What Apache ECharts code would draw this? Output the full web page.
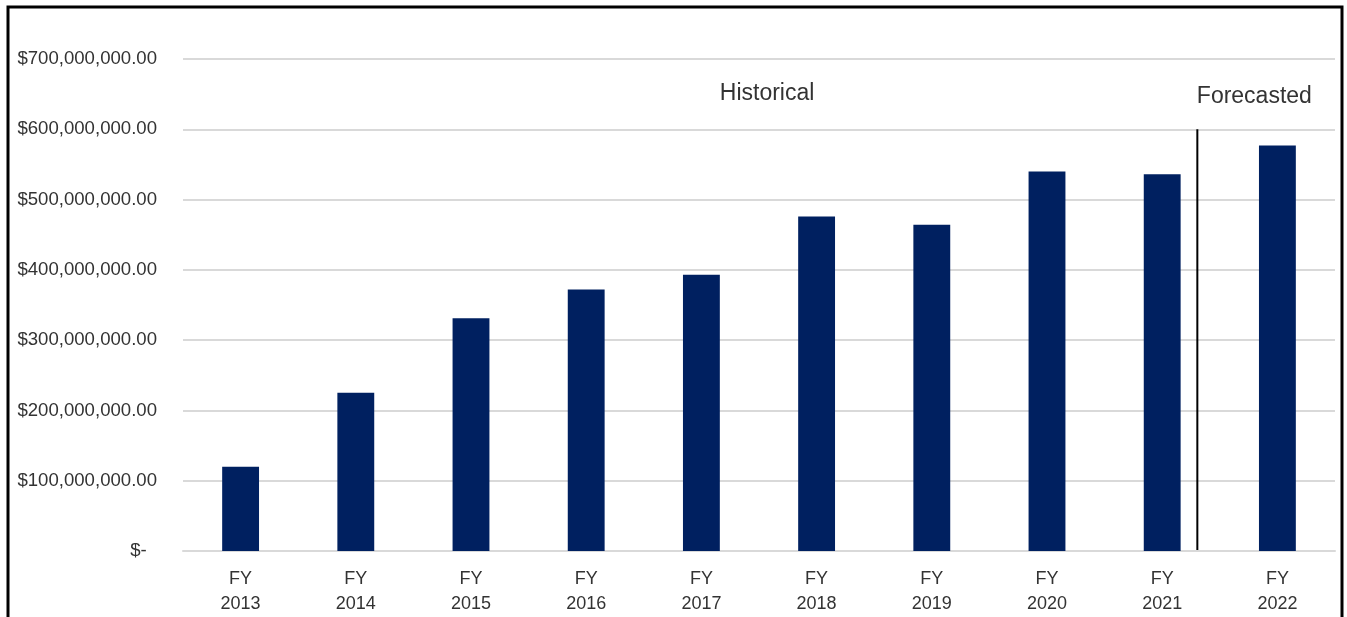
<!DOCTYPE html>
<html>
<head>
<meta charset="utf-8">
<script src="https://cdn.jsdelivr.net/npm/echarts@6/dist/echarts.min.js"></script>
<style>
  html, body { margin: 0; padding: 0; background: #fff; }
  #chart { width: 1347px; height: 617px; }
</style>
</head>
<body>
<div id="chart"></div>
<script>
// Fiscal years and annual amounts (USD)
const categories = ['FY\n2013', 'FY\n2014', 'FY\n2015', 'FY\n2016', 'FY\n2017',
                    'FY\n2018', 'FY\n2019', 'FY\n2020', 'FY\n2021', 'FY\n2022'];
const amounts = [120000000, 225000000, 331000000, 372000000, 393000000,
                 476000000, 464000000, 540000000, 536000000, 577000000];
const yTicks = [0, 100000000, 200000000, 300000000, 400000000, 500000000, 600000000, 700000000];
const sectionLabels = ['Historical', 'Forecasted'];

const FONT = '"Liberation Sans", Arial, sans-serif';
const TEXT = '#333333';

function money(v) {
  if (v === 0) return '$-  ';
  return '$' + v.toLocaleString('en-US', { minimumFractionDigits: 2, maximumFractionDigits: 2 });
}

const chart = echarts.init(document.getElementById('chart'), null, { renderer: 'canvas' });

chart.setOption({
  animation: false,
  backgroundColor: '#fff',
  grid: { left: 183, right: 12, top: 59, bottom: 61, containLabel: false },
  xAxis: {
    type: 'category',
    data: categories,
    axisLine: { show: true, lineStyle: { color: '#d9d9d9', width: 2 } },
    axisTick: { show: false },
    axisLabel: { color: TEXT, fontFamily: FONT, fontSize: 18, lineHeight: 25, margin: 16 }
  },
  yAxis: {
    type: 'value',
    min: yTicks[0],
    max: yTicks[yTicks.length - 1],
    interval: yTicks[1] - yTicks[0],
    axisLine: { show: false },
    axisTick: { show: false },
    splitLine: { lineStyle: { color: '#d9d9d9', width: 2 } },
    axisLabel: { color: TEXT, fontFamily: FONT, fontSize: 18.6, margin: 26, formatter: money }
  },
  series: [{
    type: 'bar',
    data: amounts,
    barWidth: '32%',
    itemStyle: { color: '#002060' }
  }]
});

// Overlay: chart frame, historical/forecast divider and section captions
function drawOverlay() {
  const x = (i) => chart.convertToPixel({ xAxisIndex: 0 }, i);
  const y = (v) => chart.convertToPixel({ yAxisIndex: 0 }, v);
  const band = x(1) - x(0);
  const divX = x(8) + band * 0.305;

  chart.setOption({
    graphic: [
      {
        type: 'rect', silent: true,
        shape: { x: 8, y: 7, width: 1334, height: 700 },
        style: { fill: 'none', stroke: '#000', lineWidth: 3 }
      },
      {
        type: 'line', silent: true,
        shape: { x1: divX, y1: y(600000000), x2: divX, y2: y(0) },
        style: { stroke: '#000', lineWidth: 2 }
      },
      {
        type: 'text', silent: true,
        x: x(4) + band * 0.57, y: y(650000000),
        style: { text: sectionLabels[0], fill: TEXT, font: '23px ' + FONT, align: 'center', verticalAlign: 'middle' }
      },
      {
        type: 'text', silent: true,
        x: x(9) - band * 0.2, y: y(646000000),
        style: { text: sectionLabels[1], fill: TEXT, font: '23px ' + FONT, align: 'center', verticalAlign: 'middle' }
      }
    ]
  });
}
drawOverlay();
</script>
</body>
</html>
